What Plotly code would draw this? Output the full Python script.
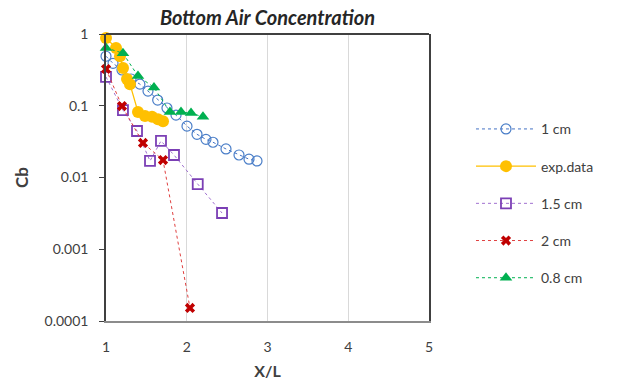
import plotly.graph_objects as go

x_1cm = [1.0, 1.087, 1.198, 1.31, 1.42, 1.52, 1.64, 1.755, 1.867, 2.003, 2.127, 2.238, 2.325, 2.486, 2.647, 2.771, 2.87]
y_1cm = [0.49, 0.39, 0.315, 0.236, 0.20, 0.16, 0.12, 0.093, 0.074, 0.052, 0.040, 0.034, 0.031, 0.025, 0.0206, 0.018, 0.017]

x_exp = [1.0, 1.124, 1.173, 1.211, 1.26, 1.297, 1.396, 1.483, 1.57, 1.644, 1.706]
y_exp = [0.88, 0.64, 0.49, 0.336, 0.236, 0.20, 0.082, 0.072, 0.070, 0.065, 0.061]

x_15cm = [1.0, 1.21, 1.384, 1.545, 1.681, 1.842, 2.136, 2.437]
y_15cm = [0.252, 0.087, 0.0445, 0.017, 0.0323, 0.0206, 0.0081, 0.0032]

x_2cm = [1.0, 1.198, 1.458, 1.706, 2.04]
y_2cm = [0.325, 0.099, 0.0303, 0.0175, 0.000152]

x_08cm = [1.0, 1.21, 1.396, 1.594, 1.792, 1.929, 2.053, 2.201]
y_08cm = [0.64, 0.54, 0.26, 0.18, 0.082, 0.082, 0.079, 0.070]

x_ticks = [1, 2, 3, 4, 5]
y_ticks = [1, 0.1, 0.01, 0.001, 0.0001]
y_tick_labels = ["1", "0.1", "0.01", "0.001", "0.0001"]

FONT = "Lato, Liberation Sans, sans-serif"

fig = go.Figure()
fig.add_trace(go.Scatter(x=x_1cm, y=y_1cm, name="1 cm", legendgroup="a", mode="lines+markers", cliponaxis=False,
                         line=dict(color="#4472C4", width=1, dash="dot"),
                         marker=dict(symbol="circle-open", size=10, color="#4A7EC8", line=dict(width=1.2))))
fig.add_trace(go.Scatter(x=x_exp, y=y_exp, name="exp.data", legendgroup="b", mode="lines+markers", cliponaxis=False,
                         line=dict(color="#FFC000", width=1.3),
                         marker=dict(symbol="circle", size=12, color="#FFC000")))
fig.add_trace(go.Scatter(x=x_15cm, y=y_15cm, name="1.5 cm", legendgroup="c", mode="lines+markers", cliponaxis=False,
                         line=dict(color="#A070D0", width=1, dash="dot"),
                         marker=dict(symbol="square-open", size=10, color="#7B3FB5", line=dict(width=1.8))))
fig.add_trace(go.Scatter(x=x_2cm, y=y_2cm, name="2 cm", legendgroup="d", mode="lines+markers", cliponaxis=False,
                         line=dict(color="#E04040", width=1, dash="dot"),
                         marker=dict(symbol="x", size=9, color="#C00000")))
fig.add_trace(go.Scatter(x=x_08cm, y=y_08cm, name="0.8 cm", legendgroup="e", mode="lines+markers", cliponaxis=False,
                         line=dict(color="#00B050", width=1, dash="dot"),
                         marker=dict(symbol="triangle-up", size=11, color="#00B050")))

fig.update_layout(
    width=617, height=380,
    margin=dict(l=106, r=188, t=34, b=59, autoexpand=False),
    paper_bgcolor="white", plot_bgcolor="white",
    font=dict(family=FONT, size=14, color="#404040"),
    title=dict(text="<b><i>Bottom Air Concentration</i></b>", x=(106 + 429) / 2 / 617, xanchor="center",
               y=1 - 18 / 380, yanchor="middle", font=dict(family=FONT, size=20, color="#262626")),
    showlegend=True,
    legend=dict(x=1.13, xanchor="left", y=0.41, yanchor="middle",
                font=dict(family=FONT, size=14, color="#404040"),
                traceorder="grouped", tracegroupgap=16, itemwidth=60, bgcolor="rgba(0,0,0,0)"),
    xaxis=dict(range=[1, 5], tickvals=x_ticks, showgrid=True, gridcolor="#D9D9D9", gridwidth=1,
               showline=True, linecolor="#8C8C8C", linewidth=2, ticks="", zeroline=False,
               ticklabelstandoff=12, automargin=False,
               title=dict(text="<b>X/L</b>", font=dict(family=FONT, size=16, color="#404040"), standoff=12)),
    yaxis=dict(type="log", range=[-4, 0], tickvals=y_ticks, ticktext=y_tick_labels, showgrid=False,
               showline=True, linecolor="#404040", linewidth=1.5, mirror=True,
               ticks="outside", ticklen=5, tickcolor="#404040", zeroline=False,
               ticklabelstandoff=8, automargin=False,
               title=dict(text="<b>Cb</b>", font=dict(family=FONT, size=17, color="#404040"), standoff=12)),
)
fig.add_shape(type="line", xref="x domain", yref="y domain", x0=0, x1=1, y0=1, y1=1,
              line=dict(color="#404040", width=2))

fig.write_html("out.html")
